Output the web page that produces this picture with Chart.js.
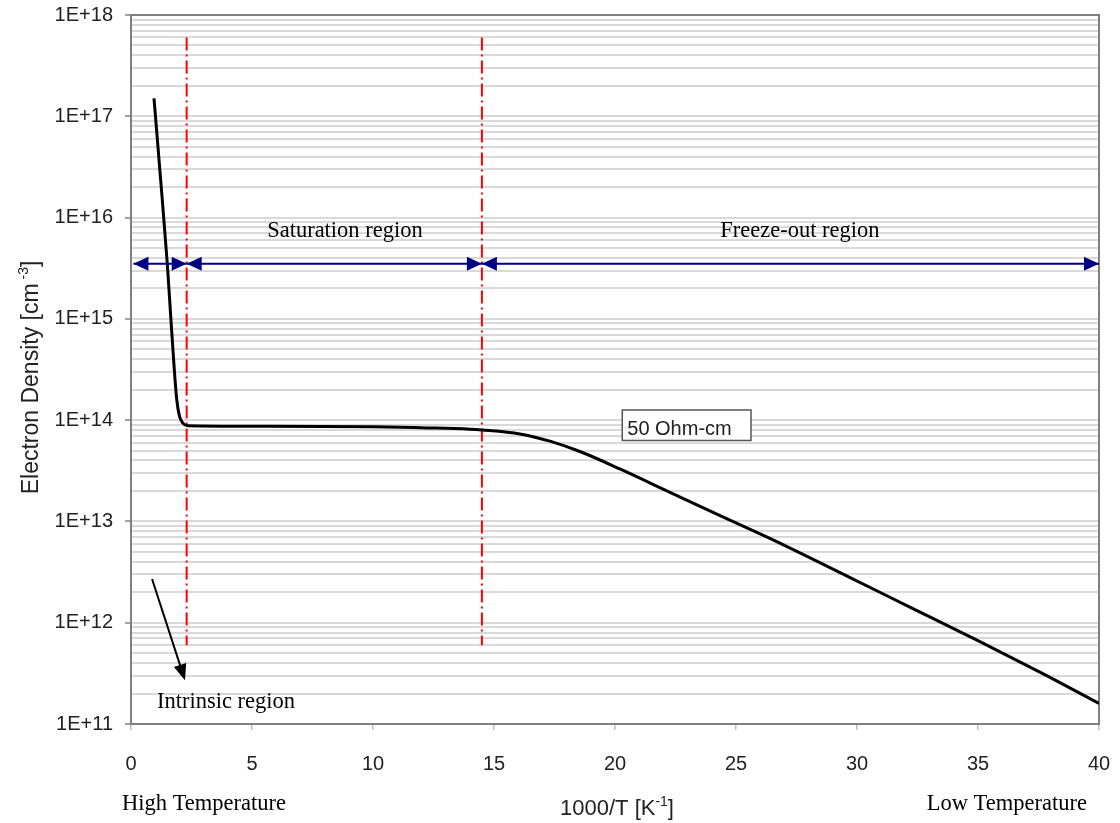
<!DOCTYPE html>
<html>
<head>
<meta charset="utf-8">
<script src="https://cdn.jsdelivr.net/npm/chart.js@4.4.1/dist/chart.umd.min.js"></script>
<style>
  html, body { margin: 0; padding: 0; background: #fff; }
  #wrap { width: 1120px; height: 823px; position: relative; }
</style>
</head>
<body>
<div id="wrap"><canvas id="grafico"></canvas></div>
<script>
// curva n(1000/T) para 50 Ohm-cm
const invT = [0.95, 1.2, 1.5, 1.64, 1.78, 1.89, 2.0, 2.15, 2.35, 5, 10, 12, 14.0, 14.5, 16.07, 17.31, 18.55, 20.2, 22.27, 24.34, 26.4, 29.57, 32.33, 35.08, 37.84, 40];
const density = [1.5e17, 2.8e16, 3.5e15, 1.07e15, 3.4e14, 1.6e14, 1.1e14, 9.3e13, 8.8e13, 8.7e13, 8.6e13, 8.4e13, 8.15e13, 8.0e13, 7.3e13, 6.2e13, 4.9e13, 3.3e13, 1.94e13, 1.14e13, 6.8e12, 2.9e12, 1.37e12, 6.5e11, 3.0e11, 1.6e11];

// limites entre regiones (lineas rojas)
const limites = [2.3, 14.5];
const limiteY = [6e17, 6e11];

// flechas azules de las regiones
const nivelFlechas = 3.5e15;
const tramos = [[0.1, 2.3], [2.3, 14.5], [14.5, 40]];

// ejes
const exponentes = [11, 12, 13, 14, 15, 16, 17, 18];
const multiplos = [1, 2, 3, 4, 5, 6, 7, 8, 9];
const etiquetasY = ['1E+11', '1E+12', '1E+13', '1E+14', '1E+15', '1E+16', '1E+17', '1E+18'];
const xMin = 0, xMax = 40, xPaso = 5;

const serif = '"Liberation Serif", "Times New Roman", serif';
const sans = '"Liberation Sans", Arial, sans-serif';

const ticksY = [];
exponentes.forEach(e => {
    multiplos.forEach(m => {
        const v = m * Math.pow(10, e);
        if (v <= Math.pow(10, exponentes[exponentes.length - 1])) ticksY.push(v);
    });
});
const esMayor = v => Math.abs(Math.log10(v) - Math.round(Math.log10(v))) < 1e-9;

function texto(ctx, str, x, y, font, align) {
    ctx.font = font;
    ctx.textAlign = align || 'left';
    ctx.textBaseline = 'alphabetic';
    ctx.fillText(str, x, y);
}

// texto con superindice: base + sup + fin, centrado en (0,0) del contexto
function textoSup(ctx, base, sup, fin, size) {
    const fb = size + 'px ' + sans, fs = Math.round(size * 0.62) + 'px ' + sans;
    ctx.font = fb; const w1 = ctx.measureText(base).width; const w3 = ctx.measureText(fin).width;
    ctx.font = fs; const w2 = ctx.measureText(sup).width;
    let x = -(w1 + w2 + w3) / 2;
    ctx.textAlign = 'left'; ctx.textBaseline = 'alphabetic';
    ctx.font = fb; ctx.fillText(base, x, 0); x += w1;
    ctx.font = fs; ctx.fillText(sup, x, -size * 0.42); x += w2;
    ctx.font = fb; ctx.fillText(fin, x, 0);
}

function punta(ctx, x, y, ang, largo, medio) {
    ctx.save();
    ctx.translate(x, y);
    ctx.rotate(ang);
    ctx.beginPath();
    ctx.moveTo(0, 0);
    ctx.lineTo(-largo, -medio);
    ctx.lineTo(-largo, medio);
    ctx.closePath();
    ctx.fill();
    ctx.restore();
}

const marco = {
    id: 'marco',
    beforeDatasetsDraw(chart) {
        const { ctx, chartArea: a } = chart;
        ctx.save();
        ctx.strokeStyle = '#808080';
        ctx.lineWidth = 2;
        ctx.strokeRect(a.left, a.top, a.right - a.left, a.bottom - a.top);
        ctx.restore();
    },
    afterDatasetsDraw(chart) {
        const { ctx, chartArea: a, scales } = chart;
        const sx = scales.x, sy = scales.y;
        ctx.save();

        // flechas de regiones
        ctx.strokeStyle = '#000080';
        ctx.fillStyle = '#000080';
        ctx.lineWidth = 2;
        const yf = sy.getPixelForValue(nivelFlechas);
        tramos.forEach(([x1, x2]) => {
            const p1 = sx.getPixelForValue(x1), p2 = sx.getPixelForValue(x2);
            ctx.beginPath(); ctx.moveTo(p1, yf); ctx.lineTo(p2, yf); ctx.stroke();
            punta(ctx, p1, yf, Math.PI, 15, 7);
            punta(ctx, p2, yf, 0, 15, 7);
        });

        // flecha negra hacia la region intrinseca
        ctx.strokeStyle = '#000'; ctx.fillStyle = '#000'; ctx.lineWidth = 2;
        const ax1 = sx.getPixelForValue(0.87), ay1 = sy.getPixelForValue(2.7e12);
        const ax2 = sx.getPixelForValue(2.23), ay2 = sy.getPixelForValue(2.7e11);
        const ang = Math.atan2(ay2 - ay1, ax2 - ax1);
        ctx.beginPath(); ctx.moveTo(ax1, ay1);
        ctx.lineTo(ax2 - 12 * Math.cos(ang), ay2 - 12 * Math.sin(ang)); ctx.stroke();
        punta(ctx, ax2, ay2, ang, 16, 6.5);

        // textos de regiones
        ctx.fillStyle = '#000';
        const ts = '22.5px ' + serif;
        texto(ctx, 'Saturation region', sx.getPixelForValue(8.84), sy.getPixelForValue(6.5e15), ts, 'center');
        texto(ctx, 'Freeze-out region', sx.getPixelForValue(27.64), sy.getPixelForValue(6.5e15), ts, 'center');
        texto(ctx, 'Intrinsic region', sx.getPixelForValue(1.07), sy.getPixelForValue(1.45e11), ts, 'left');

        // caja de resistividad
        const bx1 = sx.getPixelForValue(20.3), bx2 = sx.getPixelForValue(25.62);
        const by1 = sy.getPixelForValue(1.26e14), by2 = sy.getPixelForValue(6.3e13);
        ctx.fillStyle = '#fff';
        ctx.fillRect(bx1, by1, bx2 - bx1, by2 - by1);
        ctx.strokeStyle = '#555'; ctx.lineWidth = 1.5;
        ctx.strokeRect(bx1, by1, bx2 - bx1, by2 - by1);
        ctx.fillStyle = '#222';
        texto(ctx, '50 Ohm-cm', bx1 + 5, by2 - 5, '20px ' + sans, 'left');

        // titulos de ejes
        ctx.fillStyle = '#222';
        ctx.save();
        ctx.translate(38, (a.top + a.bottom) / 2 + 8);
        ctx.rotate(-Math.PI / 2);
        textoSup(ctx, 'Electron Density [cm', ' -3', ']', 23);
        ctx.restore();
        ctx.save();
        ctx.translate((a.left + a.right) / 2 + 2, a.bottom + 91);
        textoSup(ctx, '1000/T [K', '-1', ']', 22);
        ctx.restore();

        ctx.fillStyle = '#000';
        texto(ctx, 'High Temperature', sx.getPixelForValue(-0.37), a.bottom + 86, ts, 'left');
        texto(ctx, 'Low Temperature', sx.getPixelForValue(39.5), a.bottom + 86, ts, 'right');
        ctx.restore();
    }
};

const ctx = document.getElementById('grafico').getContext('2d');

const datasets = [{
    data: invT.map((x, i) => ({ x, y: density[i] })),
    borderColor: '#000',
    borderWidth: 3,
    pointRadius: 0,
    cubicInterpolationMode: 'monotone'
}];
limites.forEach(x => {
    datasets.push({
        data: limiteY.map(y => ({ x, y })),
        borderColor: '#ff0000',
        borderWidth: 2,
        borderDash: [13, 4, 2, 4],
        pointRadius: 0
    });
});

new Chart(ctx, {
    type: 'line',
    data: { datasets },
    options: {
        responsive: true,
        maintainAspectRatio: false,
        animation: false,
        layout: { padding: { top: 15, right: 21, left: 0, bottom: 0 } },
        plugins: { legend: { display: false }, tooltip: { enabled: false } },
        scales: {
            x: {
                type: 'linear',
                min: xMin, max: xMax,
                ticks: { stepSize: xPaso, color: '#222', font: { family: sans, size: 20 }, padding: 22, maxRotation: 0 },
                grid: { drawOnChartArea: false, tickLength: 6, tickColor: '#c0c0c0', lineWidth: 1.5 },
                border: { display: false },
                afterFit(s) { s.height = 99; s.paddingLeft = 0; s.paddingRight = 0; }
            },
            y: {
                type: 'logarithmic',
                min: Math.pow(10, exponentes[0]),
                max: Math.pow(10, exponentes[exponentes.length - 1]),
                afterBuildTicks(s) { s.ticks = ticksY.map(v => ({ value: v, major: esMayor(v) })); },
                ticks: {
                    autoSkip: false,
                    color: '#222',
                    font: { family: sans, size: 20 },
                    padding: 12,
                    callback(v) {
                        if (!esMayor(v)) return '';
                        return etiquetasY[exponentes.indexOf(Math.round(Math.log10(v)))];
                    }
                },
                grid: {
                    color: '#d9d9d9',
                    lineWidth: 2,
                    tickLength: 6,
                    tickColor: c => (c.tick && esMayor(c.tick.value)) ? '#a0a0a0' : 'rgba(0,0,0,0)'
                },
                border: { display: false },
                afterFit(s) { s.width = 131; s.paddingTop = 0; s.paddingBottom = 0; }
            }
        }
    },
    plugins: [marco]
});
</script>
</body>
</html>
